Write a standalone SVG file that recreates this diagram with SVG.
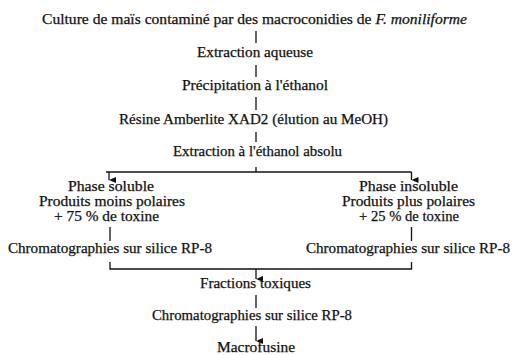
<svg xmlns="http://www.w3.org/2000/svg" width="512" height="355" viewBox="0 0 512 355">
<style>
text{font-family:"Liberation Serif","Times New Roman",serif;font-size:14.5px;fill:#111;stroke:#111;stroke-width:0.25}
.ln{stroke:#111;stroke-width:1.3;fill:none}
</style>
<defs>
<marker id="ah" viewBox="0 0 6 7" refX="3" refY="7" markerWidth="6" markerHeight="7" markerUnits="userSpaceOnUse" orient="auto-start-reverse">
<path d="M0,0 L6,0 L3,7 Z" fill="#111"/>
</marker>
</defs>
<rect width="512" height="355" fill="#fff"/>
<g id="connectors">
<line class="ln" x1="256" y1="31" x2="256" y2="43"/>
<line class="ln" x1="256" y1="65" x2="256" y2="77"/>
<line class="ln" x1="256" y1="97" x2="256" y2="110"/>
<line class="ln" x1="256" y1="132" x2="256" y2="142"/>
<line class="ln" x1="256" y1="167" x2="256" y2="172"/>
<polyline class="ln" points="106,172 411.5,172"/>
<path class="ln" d="M109,172 V180" marker-end="url(#ah)"/>
<path class="ln" d="M411.5,172 V180" marker-end="url(#ah)"/>
<line class="ln" x1="110" y1="227" x2="110" y2="241"/>
<line class="ln" x1="411.5" y1="227" x2="411.5" y2="241"/>
<polyline class="ln" points="110,262 110,269 411.5,269 411.5,262"/>
<path class="ln" d="M256,269 V279" marker-end="url(#ah)"/>
<line class="ln" x1="256" y1="295" x2="256" y2="308"/>
<path class="ln" d="M256,326 V341" marker-end="url(#ah)"/>
</g>
<g id="n1"><text x="42" y="24" textLength="425" lengthAdjust="spacingAndGlyphs">Culture de maïs contaminé par des macroconidies de <tspan font-style="italic">F. moniliforme</tspan></text></g>
<g id="n2"><text x="197" y="57" textLength="116" lengthAdjust="spacingAndGlyphs">Extraction aqueuse</text></g>
<g id="n3"><text x="182" y="90" textLength="146" lengthAdjust="spacingAndGlyphs">Précipitation à l'éthanol</text></g>
<g id="n4"><text x="119" y="124" textLength="269" lengthAdjust="spacingAndGlyphs">Résine Amberlite XAD2 (élution au MeOH)</text></g>
<g id="n5"><text x="173" y="156" textLength="169" lengthAdjust="spacingAndGlyphs">Extraction à l'éthanol absolu</text></g>
<g id="n6">
<text x="68" y="191" textLength="86" lengthAdjust="spacingAndGlyphs">Phase soluble</text>
<text x="39" y="206" textLength="146" lengthAdjust="spacingAndGlyphs">Produits moins polaires</text>
<text x="54" y="221" textLength="105" lengthAdjust="spacingAndGlyphs">+ 75 % de toxine</text>
</g>
<g id="n7">
<text x="359" y="191" textLength="99" lengthAdjust="spacingAndGlyphs">Phase insoluble</text>
<text x="342" y="206" textLength="133" lengthAdjust="spacingAndGlyphs">Produits plus polaires</text>
<text x="359" y="221" textLength="100" lengthAdjust="spacingAndGlyphs">+ 25 % de toxine</text>
</g>
<g id="n8"><text x="8" y="253" textLength="204" lengthAdjust="spacingAndGlyphs">Chromatographies sur silice RP-8</text></g>
<g id="n9"><text x="306" y="253" textLength="204" lengthAdjust="spacingAndGlyphs">Chromatographies sur silice RP-8</text></g>
<g id="n10"><text x="200" y="288" textLength="111" lengthAdjust="spacingAndGlyphs">Fractions toxiques</text></g>
<g id="n11"><text x="152" y="320" textLength="200" lengthAdjust="spacingAndGlyphs">Chromatographies sur silice RP-8</text></g>
<g id="n12"><text x="217" y="352" textLength="78" lengthAdjust="spacingAndGlyphs">Macrofusine</text></g>
</svg>
